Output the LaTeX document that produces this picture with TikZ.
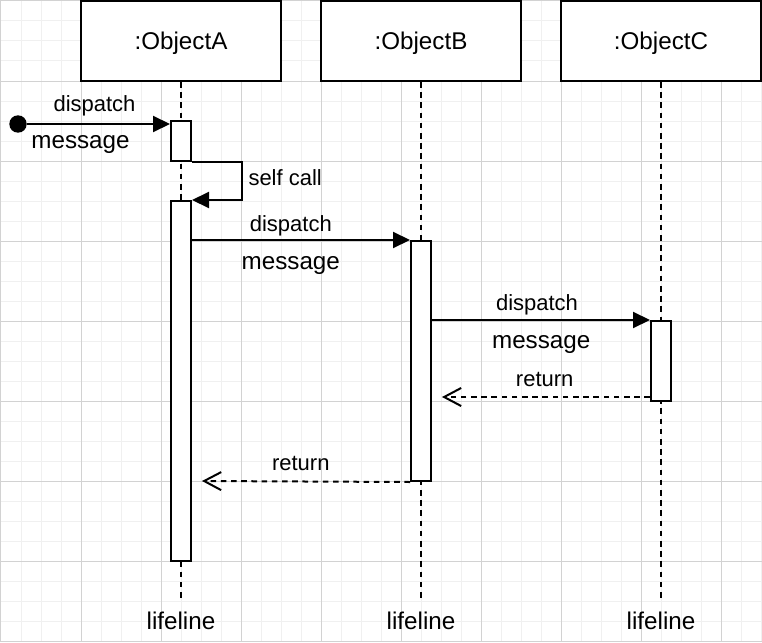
\documentclass[tikz,border=0pt]{standalone}
\usepackage{fontspec}
\setmainfont{Liberation Sans}
\usetikzlibrary{positioning,arrows.meta}

\begin{document}
\begin{tikzpicture}[x=1pt, y=-1pt,
  					 objbox/.style={rectangle, draw, fill=white, line width=2pt, minimum width=200pt, minimum height=80pt, text depth=0pt, font=\fontsize{24.2}{29}\selectfont},
  					 actbox/.style={rectangle, draw, fill=white, line width=2pt, minimum width=20pt, inner sep=0pt},
  					 lifeline/.style={line width=2pt, dash pattern=on 5.6pt off 4.6pt},
  					 msg/.style={line width=2pt, -{Triangle[length=17pt,width=16pt]}},
  					 ret/.style={line width=2pt, dash pattern=on 5.6pt off 4.6pt, -{Straight Barb[length=17pt,width=18pt]}},
  					 lbl/.style={inner sep=0pt, anchor=base, font=\fontsize{22}{26}\selectfont},
  					 lblbig/.style={inner sep=0pt, anchor=base, font=\fontsize{24.2}{29}\selectfont},
  					 minorgrid/.style={gray!12, line width=1pt},
  					 majorgrid/.style={gray!35, line width=1pt}]
    \useasboundingbox (-1,-1) rectangle (761,641);
    % Grid
    \foreach \gx in {0,20,...,760} \draw[minorgrid] (\gx,-1) -- (\gx,641);
    \foreach \gy in {0,20,...,640} \draw[minorgrid] (-1,\gy) -- (761,\gy);
    \foreach \gx in {0,80,...,720} \draw[majorgrid] (\gx,-1) -- (\gx,641);
    \foreach \gy in {0,80,...,640} \draw[majorgrid] (-1,\gy) -- (761,\gy);
    % Node
    \node[objbox] (objA) at (180,40) {:ObjectA};
    \node[objbox] (objB) at (420,40) {:ObjectB};
    \node[objbox] (objC) at (660,40) {:ObjectC};
    \coordinate (endA) at (180,600);
    \coordinate (endB) at (420,600);
    \coordinate (endC) at (660,600);
    \node[lblbig, anchor=north] (lifeA) [below=11pt of endA] {lifeline};
    \node[lblbig, anchor=north] (lifeB) [below=11pt of endB] {lifeline};
    \node[lblbig, anchor=north] (lifeC) [below=11pt of endC] {lifeline};
    % Lifelines
    \draw[lifeline] (objA.south) -- (endA);
    \draw[lifeline] (objB.south) -- (endB);
    \draw[lifeline] (objC.south) -- (endC);
    % Activations
    \node[actbox, minimum height=40pt] (a1) at (180,140) {};
    \node[actbox, minimum height=360pt] (a2) at (180,380) {};
    \node[actbox, minimum height=240pt] (b) at (420,360) {};
    \node[actbox, minimum height=80pt] (c) at (660,360) {};
    \node[circle, fill, inner sep=0pt, minimum size=17.4pt] (start) at (17,123) {};
    \coordinate (ret1) at (441,396);
    \coordinate (ret2) at (201,480);
    % Lines
    \draw[msg] (start) -- (start -| a1.west);
    \draw[msg] (a1.south east) -- ++(50,0) |- (a2.north east);
    \draw[msg] (a2.east |- b.north) -- (b.north west);
    \draw[msg] (b.east |- c.north) -- (c.north west);
    \draw[ret] (c.west |- ret1) -- (ret1);
    \draw[ret] (b.south west) -- (ret2);
    % Labels
    \node[lbl] (d1) at (93.5,110.7) {dispatch};
    \node[lblbig] (m1) at (79.5,147.3) {message};
    \node[lbl, anchor=base west] (self) at (247.3,184) {self call};
    \node[lbl] (d2) at (289.8,230.7) {dispatch};
    \node[lblbig] (m2) at (289.8,268) {message};
    \node[lbl] (d3) at (536,309) {dispatch};
    \node[lblbig] (m3) at (540.2,347.3) {message};
    \node[lbl] (r1) at (543.7,385) {return};
    \node[lbl] (r2) at (299.8,469.7) {return};
\end{tikzpicture}
\end{document}
